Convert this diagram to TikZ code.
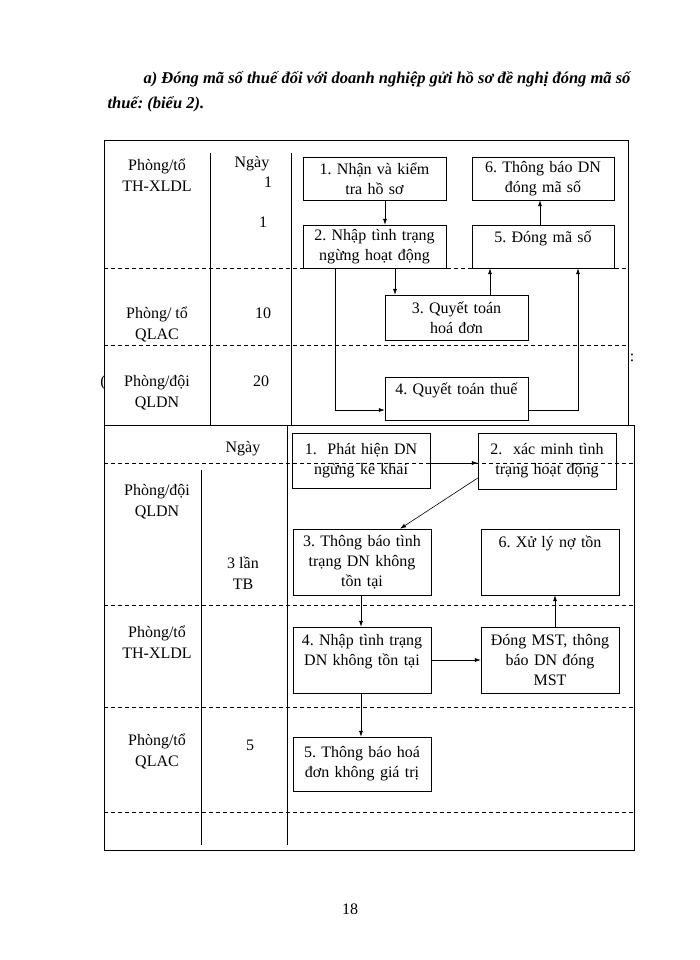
\documentclass[tikz,border=0pt]{standalone}
\usepackage{fontspec}
\setmainfont{Liberation Serif}
\frenchspacing
\usetikzlibrary{arrows.meta}
\begin{document}
\begin{tikzpicture}[x=1pt,y=-1pt,
  box/.style={draw,align=center,inner sep=0pt,font=\fontsize{16}{20}\selectfont},
  lbl/.style={align=center,font=\fontsize{16}{21}\selectfont},
  ln/.style={line width=0.6pt},
  dashln/.style={line width=0.6pt,dash pattern=on 4pt off 3pt},
  arr/.style={line width=0.6pt,-{Latex[length=6pt,width=4pt]}}]
\useasboundingbox (0,0) rectangle (700,960);
% title
\node[anchor=base west,font=\bfseries\itshape\fontsize{16.5}{18}\selectfont] (t1) at (140,84) {a) Đóng mã số thuế đối với doanh nghiệp gửi hồ sơ đề nghị đóng mã số};
\node[anchor=base west,font=\bfseries\itshape\fontsize{16.5}{18}\selectfont] (t2) at (104,109) {thuế: (biểu 2).};
% ---- top diagram
\draw[ln] (104,430) -- (104,140) -- (628,140) -- (628,430);
\draw[ln] (210,153) -- (210,430);
\draw[ln] (291,153) -- (291,430);
\draw[dashln] (104,268) -- (628,268);
\draw[dashln] (104,345) -- (628,345);
\node[lbl] (a1) at (157,175) {Phòng/tổ\\TH-XLDL};
\node[lbl] (a2) at (252,164) {Ngày};
\node[lbl] (a3) at (268,182) {1};
\node[lbl] (a4) at (263,222) {1};
\node[lbl] (a5) at (157,324) {Phòng/ tổ\\QLAC};
\node[lbl] (a6) at (263,313) {10};
\node[lbl] (a7) at (157,393) {Phòng/đội\\QLDN};
\node[lbl] (a8) at (261,381) {20};
\node[lbl] (a9) at (632,358) {:};
\node[lbl] (a10) at (103,383) {(};
\node[box,minimum width=143pt,minimum height=43pt,text width=140pt] (b1) at (374.5,178.5) {1. Nhận và kiểm\\tra hồ sơ};
\node[box,minimum width=142pt,minimum height=43pt,text width=140pt] (b6) at (543,178.5) {6. Thông báo DN\\đóng mã số};
\node[box,minimum width=143pt,minimum height=43pt,text width=140pt] (b2) at (374.5,246.5) {2. Nhập tình trạng\\ngừng hoạt động};
\node[box,minimum width=142pt,minimum height=43pt,text width=140pt] (b5) at (543,246.5) {5. Đóng mã số\\~};
\node[box,minimum width=143pt,minimum height=45pt,text width=140pt] (b3) at (456.5,317.5) {3. Quyết toán\\hoá đơn};
\node[box,minimum width=143pt,minimum height=43pt,text width=140pt] (b4) at (456.5,398.5) {4. Quyết toán thuế\\~};
\draw[arr] (b1.south -| 385,0) -- (b2.north -| 385,0);
\draw[arr] (b2.south -| 395,0) -- (b3.north -| 395,0);
\draw[arr] (b3.north -| 490,0) -- (b5.south -| 490,0);
\draw[arr] (b5.north -| 540,0) -- (b6.south -| 540,0);
\draw[arr] (b2.south -| 335,0) -- (335,410) -- (b4.west |- 0,410);
\draw[arr] (b4.east |- 0,410) -- (578,410) -- (b5.south -| 578,0);
% ---- second diagram
\draw[ln,fill=white] (104,425) rectangle (634,850);
\draw[dashln] (104,463) -- (634,463);
\draw[dashln] (104,605) -- (634,605);
\draw[dashln] (104,707) -- (634,707);
\draw[dashln] (104,812) -- (634,812);
\draw[ln] (201,470) -- (201,845);
\draw[ln] (287,425) -- (287,845);
\node[lbl] (c1) at (243,449) {Ngày};
\node[lbl] (c2) at (157,502) {Phòng/đội\\QLDN};
\node[lbl] (c3) at (243,573) {3 lần\\TB};
\node[lbl] (c4) at (157,642) {Phòng/tổ\\TH-XLDL};
\node[lbl] (c5) at (157,751) {Phòng/tổ\\QLAC};
\node[lbl] (c6) at (250,745) {5};
\node[box,minimum width=138pt,minimum height=55pt,text width=136pt] (d1) at (361,460.5) {1.\ \ Phát hiện DN\\ngừng kê khai};
\node[box,minimum width=138pt,minimum height=56pt,text width=136pt] (d2) at (547,461) {2.\ \ xác minh tình\\trạng hoạt động};
\node[box,minimum width=138pt,minimum height=66pt,text width=136pt] (d3) at (362,562) {3. Thông báo tình\\trạng DN không\\tồn tại};
\node[box,minimum width=138pt,minimum height=66pt,text width=136pt] (d6) at (550,562) {6. Xử lý nợ tồn\\~\\~};
\node[box,minimum width=138pt,minimum height=66pt,text width=136pt] (d4) at (362,660) {4. Nhập tình trạng\\DN không tồn tại\\~};
\node[box,minimum width=138pt,minimum height=66pt,text width=136pt] (d7) at (550,660) {Đóng MST, thông\\báo DN đóng\\MST};
\node[box,minimum width=138pt,minimum height=54pt,text width=136pt] (d5) at (362,764) {5. Thông báo hoá\\đơn không giá trị};
\draw[arr] (d1.east |- 0,463) -- (d2.west |- 0,463);
\draw[arr] (d2.west |- 0,478) -- (d3.north -| 400,0);
\draw[arr] (d3.south -| 361,0) -- (d4.north -| 361,0);
\draw[arr] (d4.east |- 0,660) -- (d7.west |- 0,660);
\draw[arr] (d7.north -| 555,0) -- (d6.south -| 555,0);
\draw[arr] (d4.south -| 361,0) -- (d5.north -| 361,0);
\node[lbl] (pg) at (350,909) {18};
\end{tikzpicture}
\end{document}
